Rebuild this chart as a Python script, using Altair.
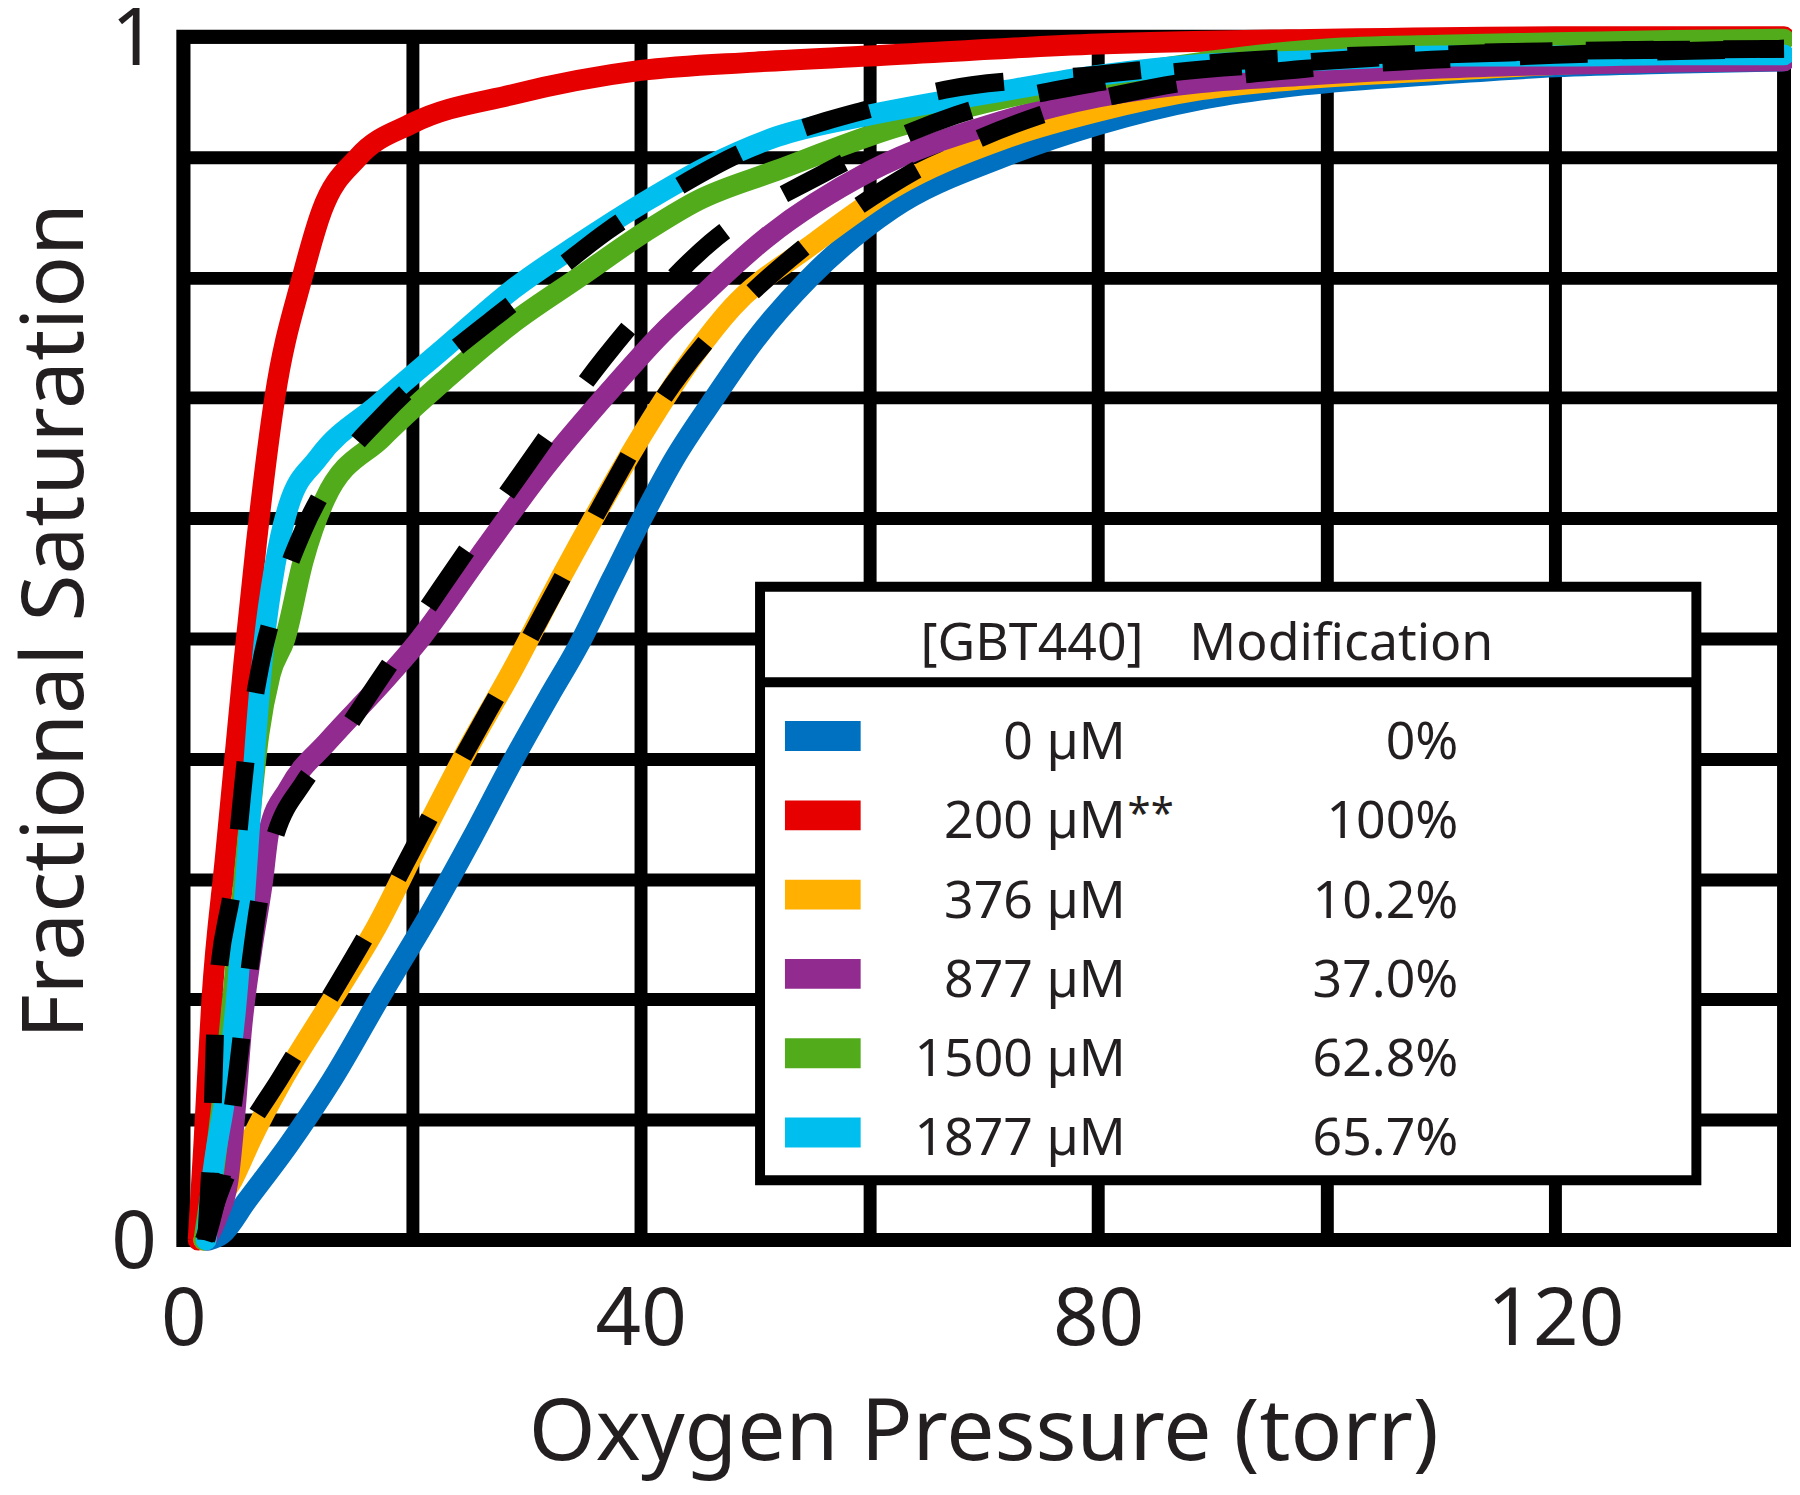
import altair as alt
import pandas as pd

FONT = "Noto Sans"
TXT = "#231f20"

# ---------------- data ----------------
series = ["0 µM", "200 µM**", "376 µM", "877 µM", "1500 µM", "1877 µM"]
conc_labels = ["0 µM", "200 µM", "376 µM", "877 µM", "1500 µM", "1877 µM"]
conc_suffix = ["", "**", "", "", "", ""]
modification = ["0%", "100%", "10.2%", "37.0%", "62.8%", "65.7%"]
colors = ["#0070C0", "#E60000", "#FFB000", "#922B8F", "#52AB1A", "#00BFEF"]
legend_title_left = "[GBT440]"
legend_title_right = "Modification"

blue_p = [2.2, 3.4, 5.5, 9.2, 13.0, 17.4, 21.8, 25.3, 28.8, 32.0, 34.5, 37.5, 40.3, 43.0, 46.1, 50.0, 54.8, 62, 71.7, 80, 89, 98, 110, 120, 130, 140]
blue_s = [0, 0.005, 0.032, 0.079, 0.133, 0.205, 0.275, 0.335, 0.398, 0.452, 0.493, 0.55, 0.603, 0.65, 0.695, 0.748, 0.8, 0.857, 0.9, 0.927, 0.948, 0.96, 0.969, 0.975, 0.978, 0.98]

red_p = [1.3, 1.8, 2.5, 3.7, 4.5, 5.3, 6.4, 8.0, 10.4, 12.1, 15.3, 20, 28.8, 40, 50, 60, 80, 100, 120, 140]
red_s = [0, 0.08, 0.2, 0.32, 0.4, 0.48, 0.58, 0.7, 0.8, 0.855, 0.9, 0.928, 0.952, 0.972, 0.979, 0.984, 0.994, 0.998, 1.0, 1.0]

orange_p = [1.8, 3.0, 4.3, 6.0, 8.5, 12.7, 17.0, 20.6, 24.7, 28.8, 33.1, 37.5, 40.3, 44.8, 48.0, 54.8, 62, 71.7, 80, 89, 98, 110, 120, 130, 140]
orange_s = [0, 0.03, 0.05, 0.085, 0.13, 0.195, 0.262, 0.33, 0.405, 0.474, 0.552, 0.627, 0.672, 0.737, 0.775, 0.826, 0.874, 0.915, 0.938, 0.956, 0.965, 0.972, 0.977, 0.981, 0.983]

purple_p = [2.0, 3.0, 3.9, 4.5, 5.1, 6.0, 6.9, 7.5, 9.2, 12.7, 17.1, 20.5, 25.8, 31.7, 37.5, 41.9, 44.8, 51, 60, 71.7, 80, 89, 98, 110, 120, 130, 140]
purple_s = [0, 0.02, 0.049, 0.104, 0.176, 0.242, 0.296, 0.34, 0.375, 0.415, 0.46, 0.497, 0.567, 0.643, 0.708, 0.754, 0.78, 0.833, 0.888, 0.93, 0.95, 0.962, 0.968, 0.974, 0.977, 0.979, 0.98]

green_p = [1.8, 2.7, 3.9, 4.9, 5.8, 6.6, 7.6, 8.9, 10.5, 12.4, 17.4, 22.9, 28.8, 34.6, 40.4, 45.0, 51.9, 62, 70, 80, 90, 100, 110, 120, 130, 140]
green_s = [0, 0.06, 0.16, 0.26, 0.35, 0.42, 0.47, 0.5, 0.565, 0.616, 0.667, 0.715, 0.762, 0.8, 0.838, 0.864, 0.889, 0.924, 0.945, 0.965, 0.98, 0.99, 0.993, 0.995, 0.997, 0.998]

cyan_p = [2.0, 2.5, 3.7, 4.6, 5.5, 6.3, 7.1, 8.0, 9.2, 11.8, 17.1, 22.9, 28.8, 34.6, 40.4, 46.0, 51.9, 60, 71.7, 80, 89, 98, 110, 120, 130, 140]
cyan_s = [0, 0.049, 0.122, 0.195, 0.304, 0.413, 0.5, 0.56, 0.61, 0.65, 0.695, 0.742, 0.79, 0.828, 0.863, 0.893, 0.917, 0.935, 0.955, 0.968, 0.977, 0.98, 0.984, 0.984, 0.985, 0.985]

# dashed model fits
fit_names = ["fit 1877/1500", "fit 877", "fit 376"]
fitA_p = [2.0, 2.5, 2.9, 4.4, 5.6, 6.8, 8.5, 10.5, 13.6, 17.5, 21.7, 27, 32.5, 37, 43.2, 48, 54.2, 60, 66.6, 79.3, 92.4, 105, 120, 140]
fitA_s = [0, 0.09, 0.2, 0.3, 0.41, 0.48, 0.54, 0.59, 0.643, 0.686, 0.724, 0.765, 0.805, 0.838, 0.875, 0.9, 0.924, 0.94, 0.956, 0.968, 0.98, 0.985, 0.988, 0.99]
fitP_p = [2.0, 3.5, 4.6, 5.6, 6.6, 8.0, 10.5, 13.5, 17.1, 22.6, 29.6, 36.8, 46.1, 55.9, 67.6, 80, 100, 120, 140]
fitP_s = [0, 0.06, 0.13, 0.21, 0.28, 0.335, 0.38, 0.415, 0.465, 0.543, 0.638, 0.733, 0.829, 0.886, 0.935, 0.962, 0.98, 0.988, 0.99]
fitO_p = [1.8, 3.2, 5.0, 8.5, 12.7, 17.0, 21.2, 26.7, 30, 33, 37.5, 42, 46.2, 55.2, 64.8, 75, 85, 100, 120, 140]
fitO_s = [0, 0.04, 0.08, 0.135, 0.2, 0.27, 0.345, 0.44, 0.495, 0.548, 0.627, 0.7, 0.752, 0.832, 0.893, 0.935, 0.958, 0.975, 0.985, 0.99]

x_grid = [0, 20, 40, 60, 80, 100, 120, 140]
y_grid = [0, 0.1, 0.2, 0.3, 0.4, 0.5, 0.6, 0.7, 0.8, 0.9, 1.0]

# ---------------- tables ----------------
rows = []
for name, ps, ss in zip(series,
                        [blue_p, red_p, orange_p, purple_p, green_p, cyan_p],
                        [blue_s, red_s, orange_s, purple_s, green_s, cyan_s]):
    for p, s in zip(ps, ss):
        rows.append({"series": name, "P": p, "S": s})
for name, ps, ss in zip(fit_names, [fitA_p, fitP_p, fitO_p], [fitA_s, fitP_s, fitO_s]):
    for p, s in zip(ps, ss):
        rows.append({"series": name, "P": p, "S": s})
df = pd.DataFrame(rows)

# ---------------- scales / axes ----------------
xscale = alt.Scale(domain=[0, 140], nice=False, zero=False)
yscale = alt.Scale(domain=[0, 1], nice=False, zero=False)

xaxis = alt.Axis(
    values=x_grid,
    labelExpr="datum.value % 40 === 0 ? datum.label : ''",
    grid=True, gridColor="black", gridWidth=13, gridOpacity=1,
    domain=False, ticks=False, tickSize=0,
    labelFont=FONT, labelFontSize=80, labelColor=TXT,
    labelPadding=105, labelBaseline="alphabetic",
    labelFlush=False, labelOverlap=False,
    title="Oxygen Pressure (torr)", titleFont=FONT, titleFontSize=86,
    titleFontWeight="normal", titleColor=TXT,
    titleX=803, titleY=220, titleBaseline="alphabetic", titleAlign="center",
)
yaxis = alt.Axis(
    values=y_grid,
    labelExpr="datum.value === 0 ? '0' : (datum.value === 1 ? '1' : '')",
    grid=True, gridColor="black", gridWidth=13, gridOpacity=1,
    domain=False, ticks=False, tickSize=0,
    labelFont=FONT, labelFontSize=80, labelColor=TXT,
    labelPadding=27, labelBaseline="middle", labelOffset=4,
    labelFlush=False, labelOverlap=False,
    title="Fractional Saturation", titleFont=FONT, titleFontSize=86,
    titleFontWeight="normal", titleColor=TXT, titleAngle=270,
    titleX=-101, titleY=586, titleBaseline="alphabetic", titleAlign="center",
)

layers = []
for name, col in zip(series, colors):
    layers.append(
        alt.Chart(df).transform_filter(alt.datum.series == name)
        .mark_line(color=col, strokeWidth=21, interpolate="monotone", strokeCap="round", strokeJoin="round")
        .encode(x=alt.X("P:Q", scale=xscale, axis=xaxis),
                y=alt.Y("S:Q", scale=yscale, axis=yaxis))
    )
for name in fit_names:
    layers.append(
        alt.Chart(df).transform_filter(alt.datum.series == name)
        .mark_line(color="black", strokeWidth=18, strokeDash=[68, 70], interpolate="monotone", strokeCap="butt")
        .encode(x=alt.X("P:Q", scale=xscale, axis=xaxis),
                y=alt.Y("S:Q", scale=yscale, axis=yaxis))
    )

# ---------------- custom legend (pixel positions inside plot area) ----------------
one = alt.Data(values=[{"k": 1}])
BX0, BX1, BY0, BY1 = 579, 1519, 552, 1148
layers.append(alt.Chart(one).mark_rect(fill="white", stroke="black", strokeWidth=10)
              .encode(x=alt.value(BX0), x2=alt.value(BX1), y=alt.value(BY0), y2=alt.value(BY1)))
layers.append(alt.Chart(one).mark_rule(color="black", strokeWidth=10)
              .encode(x=alt.value(BX0), x2=alt.value(BX1), y=alt.value(648)))
layers.append(alt.Chart(one).mark_text(text=legend_title_left, font=FONT, fontSize=52,
                                       color=TXT, align="right", baseline="alphabetic")
              .encode(x=alt.value(964), y=alt.value(626)))
layers.append(alt.Chart(one).mark_text(text=legend_title_right, font=FONT, fontSize=52,
                                       color=TXT, align="left", baseline="alphabetic")
              .encode(x=alt.value(1010), y=alt.value(626)))
for i, (cl, sf, md, col) in enumerate(zip(conc_labels, conc_suffix, modification, colors)):
    yc = 707 + i * 79.6
    layers.append(alt.Chart(one).mark_rect(fill=col)
                  .encode(x=alt.value(604), x2=alt.value(680), y=alt.value(yc - 20), y2=alt.value(yc + 10)))
    layers.append(alt.Chart(one).mark_text(text=cl, font=FONT, fontSize=52, color=TXT,
                                           align="right", baseline="alphabetic")
                  .encode(x=alt.value(946), y=alt.value(yc + 18)))
    if sf:
        layers.append(alt.Chart(one).mark_text(text=sf, font=FONT, fontSize=42, color=TXT,
                                               align="left", baseline="alphabetic")
                      .encode(x=alt.value(948), y=alt.value(yc + 8)))
    layers.append(alt.Chart(one).mark_text(text=md, font=FONT, fontSize=52, color=TXT,
                                           align="right", baseline="alphabetic")
                  .encode(x=alt.value(1280), y=alt.value(yc + 18)))

chart = (
    alt.layer(*layers)
    .properties(width=1607, height=1208,
                padding={"left": 176, "top": 26, "right": 8, "bottom": 252},
                autosize=alt.AutoSizeParams(type="none"))
    .configure_view(stroke="black", strokeWidth=14)
)

chart.save("out.html", embed_options={"renderer": "svg", "actions": False})
